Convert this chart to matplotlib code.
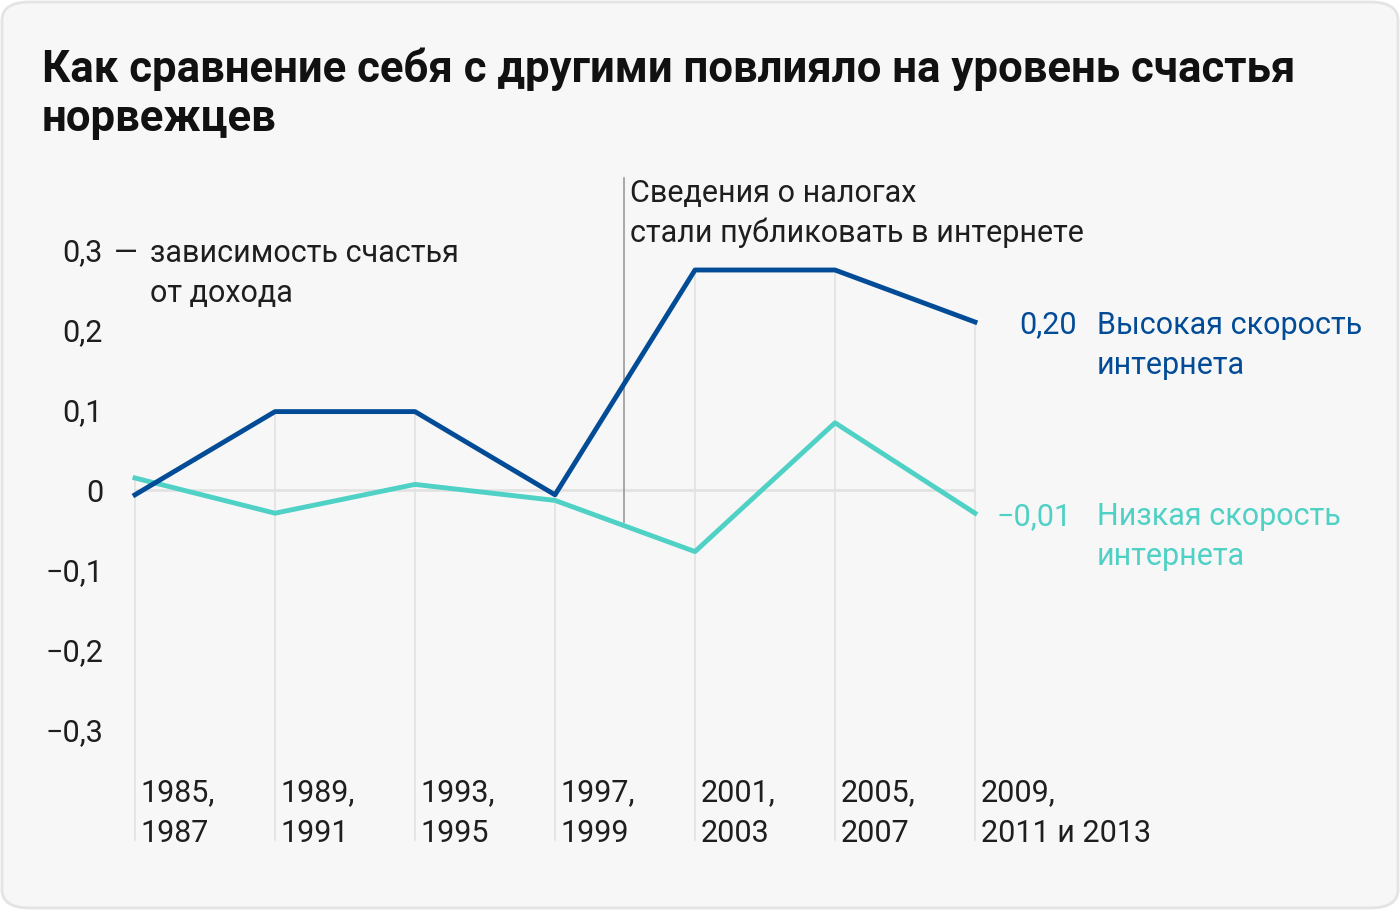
import matplotlib.pyplot as plt
from matplotlib.patches import FancyBboxPatch

plt.rcParams['font.family'] = ['Roboto', 'DejaVu Sans']

periods = [('1985,', '1987'), ('1989,', '1991'), ('1993,', '1995'),
           ('1997,', '1999'), ('2001,', '2003'), ('2005,', '2007'),
           ('2009,', '2011 и 2013')]
high_speed = [-0.006, 0.098, 0.098, -0.006, 0.275, 0.275, 0.21]
low_speed = [0.015, -0.029, 0.007, -0.013, -0.077, 0.084, -0.029]
yticks = [0.3, 0.2, 0.1, 0, -0.1, -0.2, -0.3]
ylabels = ['0,3', '0,2', '0,1', '0', '−0,1', '−0,2', '−0,3']
tax_event = 3.49

blue = '#024c97'
teal = '#4fd1c5'
grid = '#e2e2e2'
ink = '#1e1e1e'
fs = 22

W, H = 1400, 910
fig = plt.figure(figsize=(14, 9.1), dpi=100)
fig.patch.set_facecolor('white')
bg = FancyBboxPatch((2 / W, 2 / H), 1 - 4 / W, 1 - 4 / H,
                    boxstyle='round,pad=0,rounding_size=0.02',
                    transform=fig.transFigure, facecolor='#f7f7f7',
                    edgecolor='#e4e4e4', linewidth=2, zorder=-10)
fig.patches.append(bg)

fig.text(42 / W, 1 - 65 / H,
         'Как сравнение себя с другими повлияло на уровень счастья',
         fontsize=31.5, fontweight='bold', color='#111111',
         va='center_baseline', ha='left')
fig.text(42 / W, 1 - 115 / H, 'норвежцев',
         fontsize=31.5, fontweight='bold', color='#111111',
         va='center_baseline', ha='left')

# axes: x 0..6 -> px 135..975, y top px 178, bottom px 840
ax = fig.add_axes([135 / W, 1 - 840 / H, 840 / W, 662 / H])
ax.set_facecolor('none')
ax.set_xlim(0, 6)
ax.set_ylim(-0.4375, 0.39)
for s in ax.spines.values():
    s.set_visible(False)

xs = list(range(len(periods)))
ymin = ax.get_ylim()[0]
for x, a, b in zip(xs, high_speed, low_speed):
    ax.plot([x, x], [max(a, b), ymin], color=grid, lw=1.2, zorder=1,
            clip_on=False)
ax.axhline(0, color=grid, lw=2, zorder=1)

ax.plot(xs, low_speed, color=teal, lw=3.5, zorder=3, clip_on=False)
ax.plot(xs, high_speed, color=blue, lw=3.5, zorder=4, clip_on=False)

ax.set_xticks([])
ax.set_yticks(yticks)
ax.set_yticklabels(ylabels)
ax.tick_params(axis='y', length=0, pad=23, labelsize=fs, labelcolor=ink)


def px(n):
    # vertical offset in pixels -> data units (80 px per 0.1)
    return n / 800


ax.text(-0.15, 0.3, '—', fontsize=fs, color=ink, va='center_baseline',
        ha='left')
ax.text(0.107, 0.3, 'зависимость счастья', fontsize=fs, color=ink,
        va='center_baseline', ha='left')
ax.text(0.107, 0.3 - px(40), 'от дохода', fontsize=fs, color=ink,
        va='center_baseline', ha='left')

for x, (l1, l2) in zip(xs, periods):
    ax.text(x + 0.04, -0.375, l1, fontsize=fs, color=ink,
            va='center_baseline', ha='left')
    ax.text(x + 0.04, -0.375 - px(40), l2, fontsize=fs, color=ink,
            va='center_baseline', ha='left')

ax.plot([tax_event, tax_event], [ax.get_ylim()[1], -0.04], color='#9a9a9a',
        lw=1.2, zorder=2, clip_on=False)
ax.text(tax_event + 0.043, 0.375, 'Сведения о налогах', fontsize=fs,
        color=ink, va='center_baseline', ha='left')
ax.text(tax_event + 0.043, 0.375 - px(40), 'стали публиковать в интернете',
        fontsize=fs, color=ink, va='center_baseline', ha='left')

for val, lab, col, dx in [(high_speed[-1], '0,20', blue, 102),
                          (low_speed[-1], '−0,01', teal, 97)]:
    ax.annotate(lab, xy=(6, val), xytext=(dx, 0), textcoords='offset pixels',
                fontsize=fs, color=col, ha='right', va='center_baseline',
                annotation_clip=False)

for val, name, col in [(high_speed[-1], 'Высокая скорость', blue),
                       (low_speed[-1], 'Низкая скорость', teal)]:
    ax.annotate(name, xy=(6, val), xytext=(122, 0),
                textcoords='offset pixels', fontsize=fs, color=col,
                ha='left', va='center_baseline', annotation_clip=False)
    ax.annotate('интернета', xy=(6, val), xytext=(122, -40),
                textcoords='offset pixels', fontsize=fs, color=col,
                ha='left', va='center_baseline', annotation_clip=False)

fig.savefig('out.png', dpi=100, facecolor=fig.get_facecolor())
